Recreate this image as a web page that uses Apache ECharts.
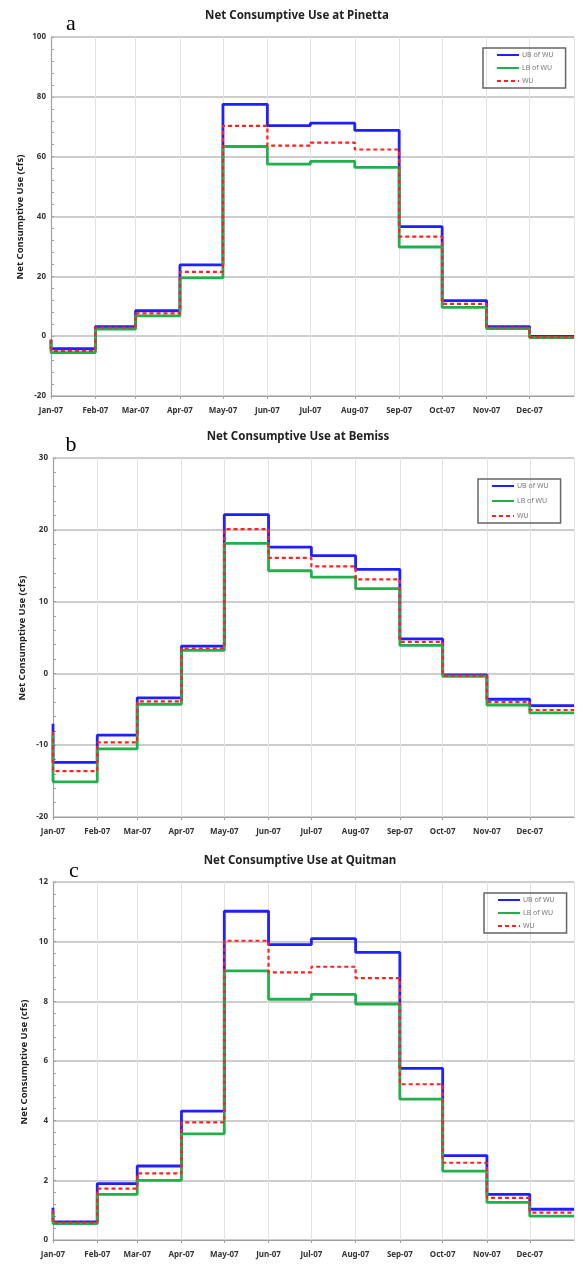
<!DOCTYPE html>
<html>
<head>
<meta charset="utf-8">
<script src="https://cdn.jsdelivr.net/npm/echarts@6/dist/echarts.min.js"></script>
<style>
html,body{margin:0;padding:0;background:#fff;}
#chart{width:578px;height:1269px;}
</style>
</head>
<body>
<div id="chart"></div>
<script>
// ---- data ----
const MONTHS = ['2007-01-01','2007-02-01','2007-03-01','2007-04-01','2007-05-01','2007-06-01',
                '2007-07-01','2007-08-01','2007-09-01','2007-10-01','2007-11-01','2007-12-01'];
const END_DATE = '2008-01-01';
const TICK_LABELS = ['Jan-07','Feb-07','Mar-07','Apr-07','May-07','Jun-07','Jul-07','Aug-07','Sep-07','Oct-07','Nov-07','Dec-07'];
const SERIES_NAMES = ['UB of WU','LB of WU','WU'];
const TITLES = ['Net Consumptive Use at Pinetta','Net Consumptive Use at Bemiss','Net Consumptive Use at Quitman'];
const PANEL_LETTERS = ['a','b','c'];
const Y_TITLE = 'Net Consumptive Use (cfs)';

// Pinetta
const pinettaStart = [-1.2, -1.2, -1.2];
const pinettaUB = [-4.2, 3.2, 8.5, 23.8, 77.5, 70.4, 71.2, 68.8, 36.6, 11.9, 3.2, -0.1];
const pinettaLB = [-5.5, 2.4, 6.8, 19.5, 63.4, 57.5, 58.4, 56.4, 29.8, 9.6, 2.5, -0.5];
const pinettaWU = [-4.9, 2.9, 7.6, 21.5, 70.3, 63.7, 64.7, 62.4, 33.3, 10.8, 2.9, -0.3];
// Bemiss
const bemissStart = [-7.0, -8.5, -8.1];
const bemissUB = [-12.4, -8.6, -3.4, 3.8, 22.1, 17.6, 16.4, 14.5, 4.8, -0.2, -3.6, -4.5];
const bemissLB = [-15.1, -10.5, -4.3, 3.2, 18.1, 14.3, 13.4, 11.8, 3.9, -0.4, -4.4, -5.5];
const bemissWU = [-13.6, -9.6, -3.9, 3.5, 20.1, 16.1, 14.9, 13.1, 4.4, -0.3, -4.0, -5.1];
// Quitman
const quitmanStart = [1.08, 1.0, 1.0];
const quitmanUB = [0.61, 1.89, 2.48, 4.32, 11.02, 9.9, 10.1, 9.64, 5.75, 2.83, 1.53, 1.03];
const quitmanLB = [0.55, 1.53, 2.0, 3.56, 9.02, 8.07, 8.23, 7.91, 4.72, 2.31, 1.26, 0.80];
const quitmanWU = [0.58, 1.72, 2.23, 3.94, 10.03, 8.97, 9.16, 8.78, 5.22, 2.59, 1.41, 0.92];

// y axis ranges
const Y_MIN = [-20, -20, 0];
const Y_MAX = [100, 30, 12];
const Y_INTERVAL = [20, 10, 2];

// ---- layout / style ----
const FONT = 'Noto Sans';
const GRIDS = [
  {left: 51, top: 37, right: 4, height: 359},
  {left: 53, top: 458, right: 4, height: 359},
  {left: 53, top: 882, right: 4, height: 358}
];
const TITLE_POS = [[297, 16], [298, 437], [300, 861]];
const LETTER_POS = [[71, 24], [71, 445], [74, 871]];
const YTITLE_POS = [[20, 217], [22, 638], [24, 1062]];
const LEGEND_POS = [
  {left: 483, top: 48, h: 46},
  {left: 478, top: 479, h: 50},
  {left: 484, top: 893, h: 46}
];
const COLORS = ['#1f1fff', '#22b04c', '#ff2020'];

const panels = [
  [pinettaStart, pinettaUB, pinettaLB, pinettaWU],
  [bemissStart, bemissUB, bemissLB, bemissWU],
  [quitmanStart, quitmanUB, quitmanLB, quitmanWU]
];

function buildSeriesData(startVal, vals) {
  const d = [[MONTHS[0], startVal]];
  MONTHS.forEach((m, i) => d.push([m, vals[i]]));
  d.push([END_DATE, vals[vals.length - 1]]);
  return d;
}

const grid = [], xAxis = [], yAxis = [], series = [], legend = [], graphic = [];
const DAY = 86400000;

panels.forEach((p, k) => {
  grid.push(GRIDS[k]);
  xAxis.push({
    type: 'time', gridIndex: k,
    min: MONTHS[0], max: END_DATE,
    splitNumber: 12, minInterval: 28 * DAY, maxInterval: 31 * DAY,
    axisLine: {onZero: false, lineStyle: {color: '#a0a0a0', width: 1.2}},
    axisTick: {show: true, length: 3, lineStyle: {color: '#a0a0a0'}},
    axisLabel: {
      margin: 11, fontFamily: FONT, fontSize: 8, fontWeight: 'bold', color: '#333',
      formatter: function (v) {
        const d = new Date(v);
        if (d.getFullYear() !== 2007 || d.getDate() !== 1) return '';
        return TICK_LABELS[d.getMonth()];
      }
    },
    splitLine: {show: true, lineStyle: {color: '#e2e2e2', width: 1}}
  });
  yAxis.push({
    type: 'value', gridIndex: k,
    min: Y_MIN[k], max: Y_MAX[k], interval: Y_INTERVAL[k],
    axisLine: {show: true, lineStyle: {color: '#a0a0a0', width: 1.2}},
    axisTick: {show: true, inside: true, length: 3, lineStyle: {color: '#a0a0a0'}},
    minorTick: {show: true, splitNumber: 5, length: 3, lineStyle: {color: '#a0a0a0'}},
    axisLabel: {margin: 5, fontFamily: FONT, fontSize: 8, fontWeight: 'bold', color: '#333'},
    splitLine: {show: true, lineStyle: {color: '#bdbdbd', width: 1.5}}
  });
  const vals = [p[1], p[2], p[3]];
  vals.forEach((v, j) => {
    series.push({
      name: SERIES_NAMES[j], type: 'line', xAxisIndex: k, yAxisIndex: k,
      step: 'end', symbol: 'none', animation: false,
      data: buildSeriesData(p[0][j], v),
      color: COLORS[j],
      lineStyle: {color: COLORS[j], width: j === 2 ? 2.2 : 2.8, type: j === 2 ? [4, 3] : 'solid'},
      z: 2 + j
    });
  });
  const L = LEGEND_POS[k];
  legend.push({
    left: L.left, top: L.top, orient: 'vertical',
    data: SERIES_NAMES,
    itemWidth: 22, itemHeight: 10, itemGap: (L.h - 36) / 2,
    padding: [3, 12, 3, 13],
    borderColor: '#666', borderWidth: 1.5,
    itemStyle: {opacity: 0},
    textStyle: {fontFamily: FONT, fontSize: 7, color: '#777', padding: [0, 0, 0, -2]},
    selectedMode: false
  });
  graphic.push({
    type: 'text', x: TITLE_POS[k][0], y: TITLE_POS[k][1],
    style: {text: TITLES[k], font: 'bold 11.5px "' + FONT + '"', fill: '#222', textAlign: 'center', textVerticalAlign: 'middle'}
  });
  graphic.push({
    type: 'text', x: LETTER_POS[k][0], y: LETTER_POS[k][1],
    style: {text: PANEL_LETTERS[k], font: '22px "Liberation Serif"', fill: '#000', textAlign: 'center', textVerticalAlign: 'middle'}
  });
  graphic.push({
    type: 'text', x: YTITLE_POS[k][0], y: YTITLE_POS[k][1], rotation: Math.PI / 2,
    style: {text: Y_TITLE, font: 'bold 9.5px "' + FONT + '"', fill: '#222', textAlign: 'center', textVerticalAlign: 'middle'}
  });
});

const chart = echarts.init(document.getElementById('chart'), null, {renderer: 'canvas'});
chart.setOption({
  animation: false,
  backgroundColor: '#fff',
  grid, xAxis, yAxis, series, legend, graphic
});
</script>
</body>
</html>
